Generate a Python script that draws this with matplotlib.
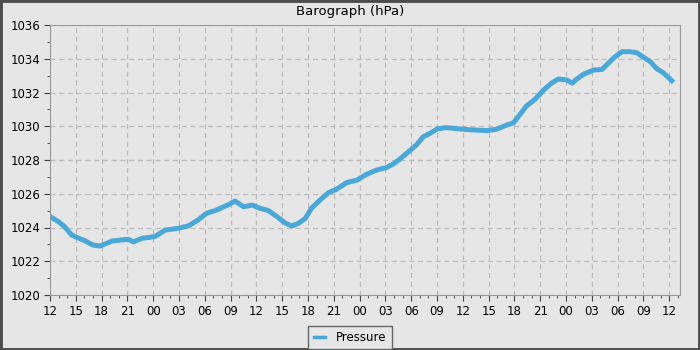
import pandas as pd
import matplotlib
matplotlib.use("Agg")
import matplotlib.pyplot as plt
import matplotlib.dates as mdates
from matplotlib.patches import Rectangle

# hours since the first sample (12:00 on day one) and pressure
hours = [0.0, 1.0, 1.7, 2.5, 3.1, 4.1, 5.0, 5.8, 6.4, 7.2, 8.3, 9.1, 9.7, 10.7,
         12.2, 13.4, 14.9, 16.1, 17.2, 18.2, 19.4, 20.2, 20.9, 21.5, 22.5, 23.5,
         24.4, 25.4, 26.4, 27.3, 28.1, 28.9, 29.7, 30.4, 31.4, 32.4, 33.3, 34.5,
         35.7, 36.8, 38.0, 39.1, 39.9, 40.7, 41.7, 42.6, 43.4, 44.2, 45.0, 46.1,
         47.7, 49.2, 50.8, 51.9, 53.1, 53.9, 54.5, 55.4, 56.4, 57.4, 58.3, 59.1,
         60.1, 60.7, 61.2, 62.0, 63.2, 64.2, 64.9, 65.7, 66.5, 67.4, 68.2, 68.9,
         69.8, 70.5, 71.3, 72.3]
pressure = [1024.65, 1024.34, 1024.05, 1023.56, 1023.42, 1023.2, 1022.96, 1022.9,
            1023.02, 1023.2, 1023.26, 1023.3, 1023.15, 1023.36, 1023.46, 1023.85,
            1023.95, 1024.1, 1024.44, 1024.84, 1025.04, 1025.23, 1025.39, 1025.57,
            1025.23, 1025.33, 1025.14, 1025.0, 1024.64, 1024.28, 1024.09, 1024.25,
            1024.55, 1025.14, 1025.63, 1026.07, 1026.26, 1026.66, 1026.81, 1027.15,
            1027.41, 1027.55, 1027.76, 1028.06, 1028.5, 1028.89, 1029.38, 1029.58,
            1029.84, 1029.92, 1029.84, 1029.78, 1029.74, 1029.82, 1030.07, 1030.21,
            1030.6, 1031.2, 1031.6, 1032.15, 1032.55, 1032.8, 1032.74, 1032.55,
            1032.78, 1033.07, 1033.33, 1033.37, 1033.73, 1034.12, 1034.42, 1034.42,
            1034.36, 1034.12, 1033.83, 1033.43, 1033.17, 1032.7]

start = pd.Timestamp("2024-01-01 12:00")
times = start + pd.to_timedelta(hours, unit="h")

bg = "#e6e6e6"
fig = plt.figure(figsize=(7, 3.5), dpi=100, facecolor=bg)
ax = fig.add_axes([50 / 700, 55 / 350, 630 / 700, 270 / 350])
ax.set_facecolor(bg)

ax.plot(times, pressure, color="#4aa8d8", lw=3.6, solid_joinstyle="round",
        label="Pressure")

ax.set_ylim(1020, 1036)
ax.set_yticks(range(1020, 1037, 2))
ax.set_yticks(range(1021, 1036, 2), minor=True)
ax.set_xlim(start, start + pd.Timedelta(hours=73.25))
ax.xaxis.set_major_locator(mdates.HourLocator(byhour=range(0, 24, 3)))
ax.xaxis.set_minor_locator(mdates.HourLocator())
ax.xaxis.set_major_formatter(mdates.DateFormatter("%H"))

ax.grid(which="major", color="#bdbdbd", linestyle=(0, (4, 3)), lw=0.9)
for s in ax.spines.values():
    s.set_color("#999999")
ax.tick_params(which="major", length=4, color="#444444", labelsize=8.5, pad=3)
ax.tick_params(which="minor", length=2.5, color="#444444")

fig.text(0.5, 1 - 12 / 350, "Barograph (hPa)", ha="center", va="center", fontsize=9.5)

leg = fig.legend(loc="lower center", bbox_to_anchor=(350 / 700, -3 / 350),
                 fontsize=8.5, frameon=True, fancybox=False, handlelength=1.0,
                 borderpad=0.45, handletextpad=0.9, borderaxespad=0.3)
leg.get_frame().set_facecolor(bg)
leg.get_frame().set_edgecolor("#666666")
leg.get_frame().set_alpha(1)
for h in leg.get_lines():
    h.set_linewidth(2.5)

fig.patches.append(Rectangle((0, 0), 1, 1, transform=fig.transFigure, fill=False,
                             edgecolor="#4d4d4d", lw=3.5))

fig.savefig("out.png", dpi=100, facecolor=bg)
